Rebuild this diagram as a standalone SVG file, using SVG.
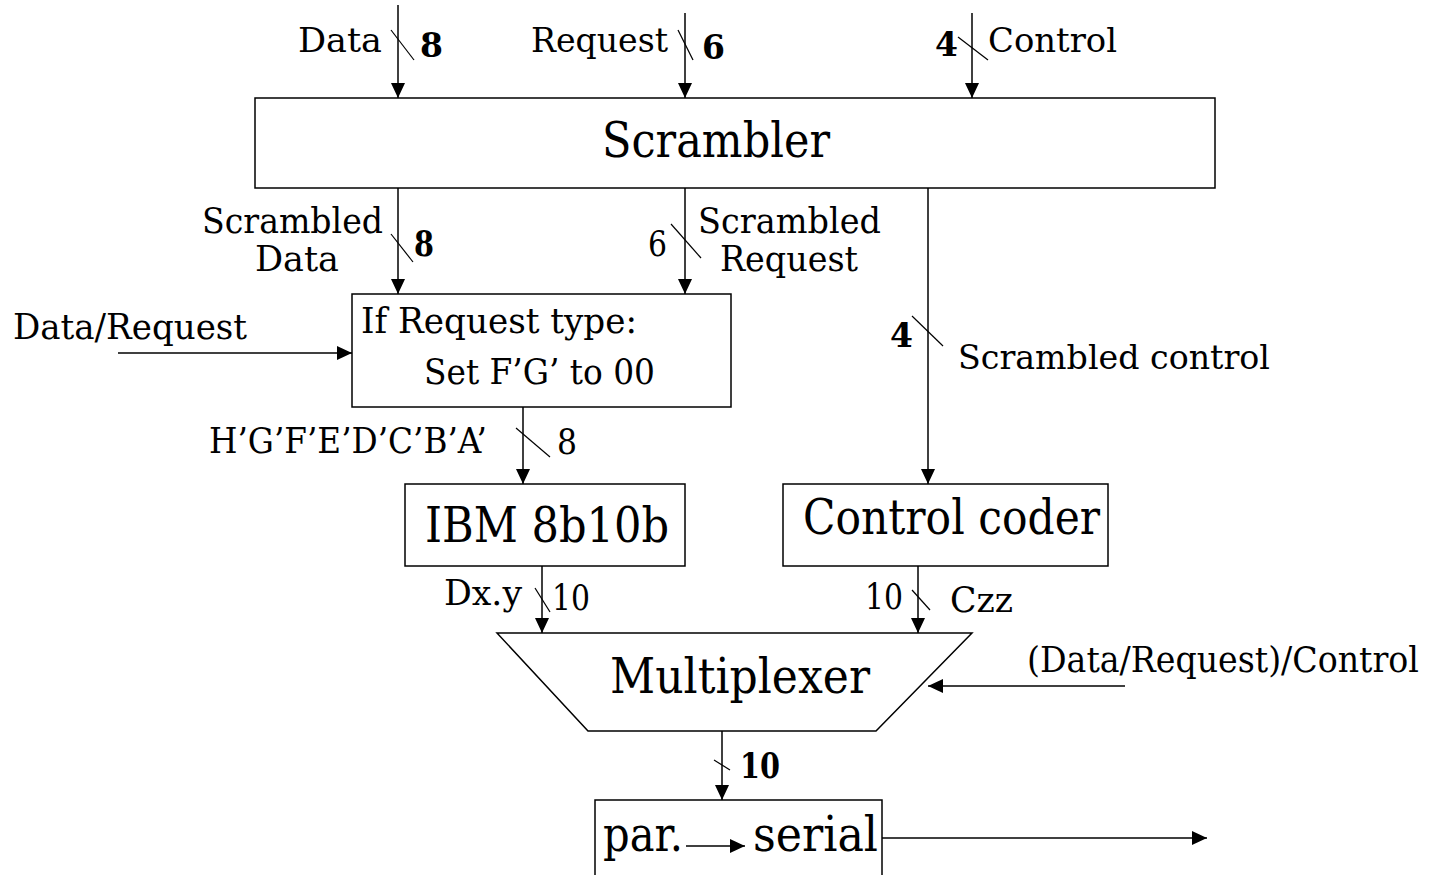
<svg xmlns="http://www.w3.org/2000/svg" width="1431" height="875" viewBox="0 0 1431 875">
<style>
text{font-family:"DejaVu Serif","Liberation Serif",serif;fill:#000}
.big{font-size:48px}
.lab{font-size:33px}
.lc{font-size:36px}
.b{font-weight:bold}
.box{fill:#fff;stroke:#000;stroke-width:1.5}
.ln{stroke:#000;stroke-width:1.5;fill:none}
.sl{stroke:#000;stroke-width:1.2}
</style>
<defs>
<marker id="ah" markerWidth="15" markerHeight="14" refX="15" refY="7" orient="auto" markerUnits="userSpaceOnUse">
<path d="M0,0 L15,7 L0,14 Z" fill="#000"/>
</marker>
</defs>
<rect width="1431" height="875" fill="#fff"/>

<g id="scrambler">
<rect class="box" x="255" y="98" width="960" height="90"/>
<text class="big" x="602" y="157" textLength="228" lengthAdjust="spacingAndGlyphs">Scrambler</text>
</g>
<g id="reqfilter">
<rect class="box" x="352" y="294" width="379" height="113"/>
<text class="lc" x="361" y="333" textLength="276" lengthAdjust="spacingAndGlyphs">If Request type:</text>
<text class="lc" x="424" y="384" textLength="231" lengthAdjust="spacingAndGlyphs">Set F’G’ to 00</text>
</g>
<g id="ibm">
<rect class="box" x="405" y="484" width="280" height="82"/>
<text class="big" x="425" y="542" textLength="244" lengthAdjust="spacingAndGlyphs">IBM 8b10b</text>
</g>
<g id="ccoder">
<rect class="box" x="783" y="484" width="325" height="82"/>
<text class="big" x="803" y="534" textLength="297" lengthAdjust="spacingAndGlyphs">Control coder</text>
</g>
<g id="mux">
<path class="box" d="M497,633 L972,633 L876,731 L588,731 Z"/>
<text class="big" x="610" y="693" textLength="260" lengthAdjust="spacingAndGlyphs">Multiplexer</text>
</g>
<g id="serializer">
<rect class="box" x="595" y="800" width="287" height="80"/>
<text class="big" x="603" y="851" textLength="80" lengthAdjust="spacingAndGlyphs">par.</text>
<line class="ln" x1="686" y1="846" x2="745" y2="846" marker-end="url(#ah)"/>
<text class="big" x="753" y="851" textLength="125" lengthAdjust="spacingAndGlyphs">serial</text>
</g>

<g id="connectors">
<line class="ln" x1="398" y1="5" x2="398" y2="98" marker-end="url(#ah)"/>
<line class="ln" x1="685" y1="13" x2="685" y2="98" marker-end="url(#ah)"/>
<line class="ln" x1="972" y1="13" x2="972" y2="98" marker-end="url(#ah)"/>
<line class="ln" x1="398" y1="188" x2="398" y2="294" marker-end="url(#ah)"/>
<line class="ln" x1="685" y1="188" x2="685" y2="294" marker-end="url(#ah)"/>
<line class="ln" x1="928" y1="188" x2="928" y2="484" marker-end="url(#ah)"/>
<line class="ln" x1="118" y1="353" x2="352" y2="353" marker-end="url(#ah)"/>
<line class="ln" x1="523" y1="407" x2="523" y2="484" marker-end="url(#ah)"/>
<line class="ln" x1="542" y1="566" x2="542" y2="633" marker-end="url(#ah)"/>
<line class="ln" x1="918" y1="566" x2="918" y2="633" marker-end="url(#ah)"/>
<line class="ln" x1="1125" y1="686" x2="928" y2="686" marker-end="url(#ah)"/>
<line class="ln" x1="722" y1="731" x2="722" y2="800" marker-end="url(#ah)"/>
<line class="ln" x1="882" y1="838" x2="1207" y2="838" marker-end="url(#ah)"/>
<line class="sl" x1="391" y1="30" x2="414" y2="60"/>
<line class="sl" x1="678" y1="30" x2="693" y2="60"/>
<line class="sl" x1="958" y1="37" x2="988" y2="60"/>
<line class="sl" x1="391" y1="234" x2="413" y2="262"/>
<line class="sl" x1="671" y1="224" x2="701" y2="258"/>
<line class="sl" x1="912" y1="316" x2="943" y2="346"/>
<line class="sl" x1="516" y1="428" x2="550" y2="457"/>
<line class="sl" x1="535" y1="588" x2="550" y2="612"/>
<line class="sl" x1="912" y1="590" x2="930" y2="610"/>
<line class="sl" x1="714" y1="760" x2="730" y2="770"/>
</g>

<g id="labels">
<text class="lab" x="298" y="52" textLength="84" lengthAdjust="spacingAndGlyphs">Data</text>
<text class="lab b" x="420" y="57">8</text>
<text class="lab" x="531" y="52" textLength="137" lengthAdjust="spacingAndGlyphs">Request</text>
<text class="lab b" x="702" y="59">6</text>
<text class="lab b" x="935" y="56">4</text>
<text class="lab" x="988" y="52" textLength="129" lengthAdjust="spacingAndGlyphs">Control</text>
<text class="lc" x="202" y="233" textLength="181" lengthAdjust="spacingAndGlyphs">Scrambled</text>
<text class="lc" x="255" y="271" textLength="84" lengthAdjust="spacingAndGlyphs">Data</text>
<text class="lc b" x="414" y="256" textLength="20" lengthAdjust="spacingAndGlyphs">8</text>
<text class="lc" x="648" y="256" textLength="19" lengthAdjust="spacingAndGlyphs">6</text>
<text class="lc" x="698" y="233" textLength="183" lengthAdjust="spacingAndGlyphs">Scrambled</text>
<text class="lc" x="720" y="271" textLength="138" lengthAdjust="spacingAndGlyphs">Request</text>
<text class="lab b" x="890" y="347">4</text>
<text class="lab" x="958" y="369" textLength="312" lengthAdjust="spacingAndGlyphs">Scrambled control</text>
<text class="lc" x="13" y="339" textLength="234" lengthAdjust="spacingAndGlyphs">Data/Request</text>
<text class="lc" x="209" y="453" textLength="278" lengthAdjust="spacingAndGlyphs">H’G’F’E’D’C’B’A’</text>
<text class="lc" x="557" y="454" textLength="20" lengthAdjust="spacingAndGlyphs">8</text>
<text class="lc" x="444" y="605" textLength="78" lengthAdjust="spacingAndGlyphs">Dx.y</text>
<text class="lc" x="552" y="610" textLength="38" lengthAdjust="spacingAndGlyphs">10</text>
<text class="lc" x="865" y="609" textLength="38" lengthAdjust="spacingAndGlyphs">10</text>
<text class="lc" x="950" y="612" textLength="63" lengthAdjust="spacingAndGlyphs">Czz</text>
<text class="lc" transform="translate(1027,672) scale(0.82,1)" x="0" y="0" textLength="478" lengthAdjust="spacingAndGlyphs">(Data/Request)/Control</text>
<text class="lc b" x="740" y="778" textLength="40" lengthAdjust="spacingAndGlyphs">10</text>
</g>
</svg>
